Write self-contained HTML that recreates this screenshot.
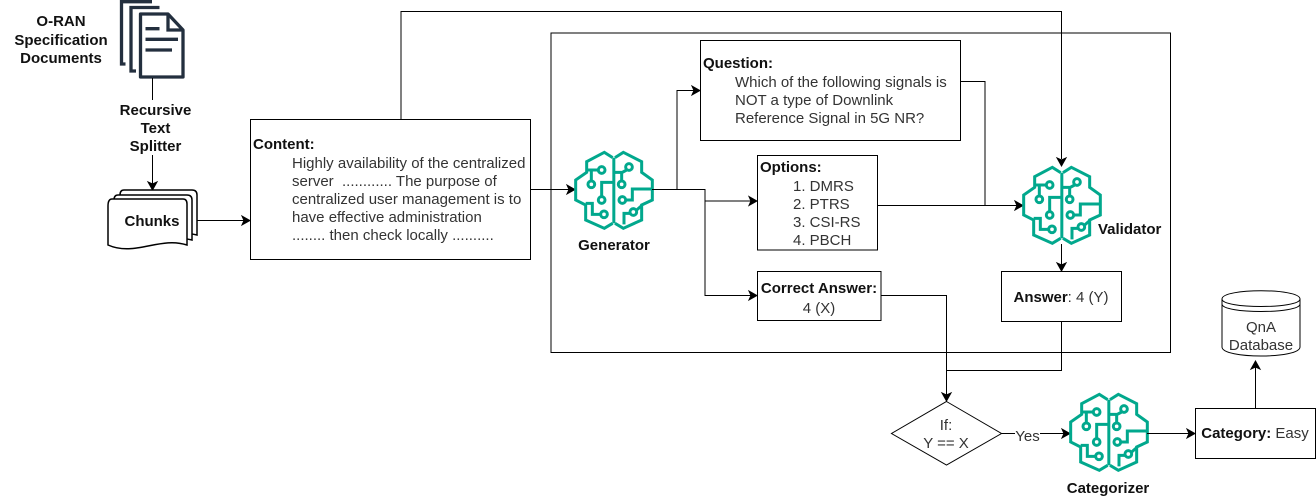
<!DOCTYPE html>
<html><head><meta charset="utf-8"><style>
html,body{margin:0;padding:0;background:#fff}
svg{display:block}
text{font-family:"Liberation Sans",sans-serif;font-size:15px;fill:#333}
.b{font-weight:bold;fill:#111}
.m{text-anchor:middle}
.l{fill:none;stroke:#000;stroke-width:1}
.bx{fill:#fff;stroke:#000;stroke-width:1}
</style></head><body>
<svg width="1316" height="502" viewBox="0 0 1316 502" xmlns="http://www.w3.org/2000/svg">
<defs>
<g id="brain" transform="translate(565 145) scale(.3333)" fill="none" stroke="#01A88D" stroke-width="9">
<path d="M143 38L118 22L65 50V82L32 105V165L62 180V225L118 250L143 235"/>
<path d="M150 38L175 22L230 50V82L262 105V165L230 180V225L175 250L150 235"/>
<path d="M146.500 38V235"/>
<path d="M65 75H100M79 75V108M110 153V112H146M105 208H82V175H62M146 82H172L185 75M170 82V108M182 165H202V132H262M177 238V205H195M215 195L230 182"/>
<circle cx="110" cy="75" r="10"/><circle cx="79" cy="118" r="10"/><circle cx="110" cy="165" r="10"/><circle cx="117" cy="208" r="10"/>
<circle cx="192" cy="66" r="10"/><circle cx="170" cy="118" r="10"/><circle cx="172" cy="165" r="10"/><circle cx="205" cy="201" r="10"/>
</g>
<g id="ah"><path d="M0 0L-8 -4.500L-6 0L-8 4.500Z" fill="#000" stroke="#000"/></g>
</defs>

<!-- documents icon -->
<g fill="none" stroke="#232F3E" stroke-width="3.300">
<path d="M152 1.700H121.500V64H125.500"/>
<path d="M159.500 7.500H131V71H136"/>
<path d="M140.500 14H168L183 30V77H140.500Z" stroke-linejoin="round"/>
<path d="M168 14V30H183M145.500 28.700H159.500M145.500 39.300H178M145.500 50H172"/>
</g>
<path class="l" d="M152.500 78V100M152.500 155V184"/>
<use href="#ah" transform="translate(152.500 190) rotate(90)"/>

<!-- chunks -->
<g class="bx" style="stroke-width:1.500">
<path d="M124 190H192Q197 190 197 195V235C170 228 145 246 120 236V195Q120 190 124 190Z"/>
<path d="M118 195H187Q192 195 192 200V240C165 233 140 251 114 241V200Q114 195 118 195Z"/>
<path d="M112 199H183Q187 199 187 204V245C160 236 135 257 108 245V206Q108 199 112 199Z"/>
</g>
<text class="b m" x="152" y="226">Chunks</text>
<path class="l" d="M197 220.500H244"/>
<use href="#ah" transform="translate(250 220.500)"/>

<!-- left labels -->
<text class="b m" x="61" y="26">O-RAN</text>
<text class="b m" x="61" y="45">Specification</text>
<text class="b m" x="61" y="63">Documents</text>
<text class="b m" x="155.500" y="115">Recursive</text>
<text class="b m" x="155.500" y="133">Text</text>
<text class="b m" x="155.500" y="151">Splitter</text>

<!-- outer container -->
<rect class="l" x="551" y="33" width="619.500" height="319.500"/>

<!-- top route -->
<path class="l" d="M401 119V11.500H1061.500V159"/>
<use href="#ah" transform="translate(1061.500 166) rotate(90)"/>

<!-- content -->
<rect class="bx" x="250.500" y="119.500" width="280" height="140"/>
<text class="b" x="253" y="149">Content:</text>
<text x="292" y="168">Highly availability of the centralized</text>
<text x="292" y="186" xml:space="preserve">server  ............ The purpose of</text>
<text x="292" y="204">centralized user management is to</text>
<text x="292" y="222">have effective administration</text>
<text x="292" y="240">........ then check locally ..........</text>

<path class="l" d="M530.500 189.500H569"/>
<use href="#ah" transform="translate(575 189.500)"/>

<use href="#brain"/>
<text class="b m" x="614" y="250">Generator</text>

<!-- generator routes -->
<path class="l" d="M652 189.500H677V90.500H694"/>
<use href="#ah" transform="translate(700 90.500)"/>
<path class="l" d="M677 189.500H705V201H751"/>
<use href="#ah" transform="translate(757 201)"/>
<path class="l" d="M705 201V295.500H751"/>
<use href="#ah" transform="translate(757 295.500)"/>

<!-- question -->
<rect class="bx" x="700.500" y="40.500" width="260" height="100"/>
<text class="b" x="703" y="68">Question:</text>
<text x="735" y="87">Which of the following signals is</text>
<text x="735" y="105">NOT a type of Downlink</text>
<text x="735" y="123">Reference Signal in 5G NR?</text>

<!-- options -->
<rect class="bx" x="757.500" y="155.500" width="120" height="94.500"/>
<text class="b" x="760" y="172">Options:</text>
<text x="793" y="191">1. DMRS</text>
<text x="793" y="209">2. PTRS</text>
<text x="793" y="227">3. CSI-RS</text>
<text x="793" y="245">4. PBCH</text>

<!-- correct answer -->
<rect class="bx" x="757.500" y="271.500" width="123.500" height="49"/>
<text class="b m" x="819" y="293">Correct Answer:</text>
<text class="m" x="819" y="313">4 (X)</text>

<!-- to validator -->
<path class="l" d="M960.500 81.500H985V205"/>
<path class="l" d="M877.500 205.500H1017"/>
<use href="#ah" transform="translate(1023 205.500)"/>

<use href="#brain" transform="translate(448 15)"/>
<text class="b" x="1098" y="234">Validator</text>

<path class="l" d="M1061.500 244V265"/>
<use href="#ah" transform="translate(1061.500 271) rotate(90)"/>

<!-- answer -->
<rect class="bx" x="1001.500" y="271.500" width="120" height="50"/>
<text class="m" x="1061" y="302"><tspan class="b">Answer</tspan>: 4 (Y)</text>

<!-- to diamond -->
<path class="l" d="M881 295.500H946.500V395"/>
<path class="l" d="M1061.500 321.500V370.500H946.500"/>
<use href="#ah" transform="translate(946.500 401) rotate(90)"/>

<!-- diamond -->
<path class="bx" d="M946.500 401.500L1001.500 433.500L946.500 465L891.500 433.500Z"/>
<text class="m" x="946" y="430">If:</text>
<text class="m" x="946" y="448">Y == X</text>

<path class="l" d="M1001.500 433.500H1015M1040 433.500H1064"/>
<use href="#ah" transform="translate(1070 433.500)"/>
<text class="m" x="1027.500" y="441">Yes</text>

<use href="#brain" transform="translate(495 242)"/>
<text class="b m" x="1108" y="493">Categorizer</text>

<path class="l" d="M1147 433.500H1189"/>
<use href="#ah" transform="translate(1195 433.500)"/>

<!-- category -->
<rect class="bx" x="1195.500" y="408.500" width="120" height="50"/>
<text class="m" x="1255" y="438"><tspan class="b">Category:</tspan> Easy</text>

<path class="l" d="M1255.500 408V367"/>
<use href="#ah" transform="translate(1255.500 361) rotate(-90)"/>

<!-- database -->
<path class="bx" d="M1222 299C1222 288 1300 288 1300 299V347C1300 359 1222 359 1222 347Z"/>
<path class="l" d="M1222 299C1222 309 1300 309 1300 299M1222 304C1222 314 1300 314 1300 304"/>
<text class="m" x="1261" y="332">QnA</text>
<text class="m" x="1261" y="350">Database</text>
</svg>
</body></html>
